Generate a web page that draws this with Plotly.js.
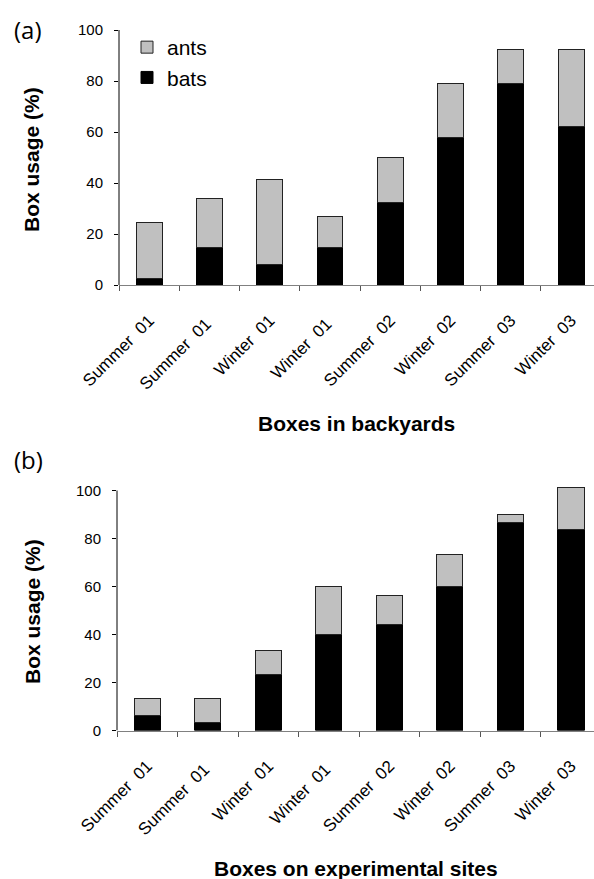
<!DOCTYPE html>
<html>
<head>
<meta charset="utf-8">
<script src="https://cdn.plot.ly/plotly-3.0.1.min.js"></script>
<style>html,body{margin:0;padding:0;background:#fff;}#chart{width:594px;height:879px;}</style>
</head>
<body>
<div id="chart"></div>
<script>
// Categories (x tick labels), same for both panels
const categories = ["Summer \u00a001", "Summer \u00a001 ", "Winter \u00a001", "Winter \u00a001 ", "Summer \u00a002", "Winter \u00a002", "Summer \u00a003", "Winter \u00a003"];

// Panel (a): boxes in backyards (%)
const batsA = [2.5, 14.6, 8.0, 14.6, 32.3, 58.0, 78.9, 62.3];
const antsA = [22.0, 19.3, 33.2, 12.1, 17.8, 20.9, 13.3, 29.9];

// Panel (b): boxes on experimental sites (%)
const batsB = [6.4, 3.4, 23.5, 40.1, 44.3, 60.2, 86.8, 83.8];
const antsB = [7.0, 10.0, 10.0, 20.0, 11.8, 13.3, 3.4, 17.4];

const yTicks = [0, 20, 40, 60, 80, 100];
const seriesNames = ["bats", "ants"];

const W = 594, H = 879;
const FONT = "Liberation Sans, Arial, sans-serif";
const px = v => v / W;
const py = v => 1 - v / H;

const barW = 0.43;
const common = {type: "bar", width: barW};

const traces = [
  Object.assign({}, common, {x: categories, y: batsA, name: seriesNames[0], xaxis: "x", yaxis: "y",
    marker: {color: "#000000", line: {color: "#000000", width: 1}}, legendrank: 2}),
  Object.assign({}, common, {x: categories, y: antsA, name: seriesNames[1], xaxis: "x", yaxis: "y",
    marker: {color: "#c0c0c0", line: {color: "#222222", width: 1}}, legendrank: 1}),
  Object.assign({}, common, {x: categories, y: batsB, name: seriesNames[0], xaxis: "x2", yaxis: "y2", showlegend: false,
    marker: {color: "#000000", line: {color: "#000000", width: 1}}}),
  Object.assign({}, common, {x: categories, y: antsB, name: seriesNames[1], xaxis: "x2", yaxis: "y2", showlegend: false,
    marker: {color: "#c0c0c0", line: {color: "#222222", width: 1}}})
];

const xAxisBase = {
  type: "category",
  range: [-0.5, 7.38],
  showgrid: false, zeroline: false,
  showline: true, linecolor: "#808080", linewidth: 1,
  ticks: "outside", tickson: "boundaries", ticklen: 5, tickcolor: "#555555", tickwidth: 1,
  tickangle: -45,
  tickfont: {family: FONT, size: 17, color: "#000"},
  ticklabelstandoff: 18,
  fixedrange: true
};
const yAxisBase = {
  showgrid: false, zeroline: false, showline: false,
  ticks: "outside", ticklen: 4, tickcolor: "#000", tickwidth: 1,
  tickvals: yTicks, ticktext: yTicks.map(String),
  tickfont: {family: FONT, size: 15, color: "#000"},
  ticklabelstandoff: 8,
  fixedrange: true
};

// panel (b): 0 at y=730.5px, 100 at y=490.5px; range extended a bit to show the tallest bar
const bTopVal = 102;
const bTopPx = 730.5 - bTopVal * 2.4;

const layout = {
  width: W, height: H,
  margin: {l: 0, r: 0, t: 0, b: 0},
  paper_bgcolor: "#fff", plot_bgcolor: "#fff",
  barmode: "stack",
  showlegend: true,
  legend: {
    x: px(127), y: py(27), xanchor: "left", yanchor: "top",
    font: {family: FONT, size: 21, color: "#000"},
    bgcolor: "rgba(0,0,0,0)", traceorder: "normal",
    itemwidth: 30, tracegroupgap: 0
  },
  xaxis: Object.assign({}, xAxisBase, {domain: [px(119), 1], anchor: "y"}),
  yaxis: Object.assign({}, yAxisBase, {domain: [py(285), py(30)], range: [0, 100], anchor: "x"}),
  xaxis2: Object.assign({}, xAxisBase, {domain: [px(117), 1], anchor: "y2"}),
  yaxis2: Object.assign({}, yAxisBase, {domain: [py(730.5), py(bTopPx)], range: [0, bTopVal], anchor: "x2"}),
  shapes: [
    {type: "line", xref: "x domain", yref: "y", x0: 0, x1: 0, y0: 0, y1: 100, line: {color: "#000", width: 1}},
    {type: "line", xref: "x2 domain", yref: "y2", x0: 0, x1: 0, y0: 0, y1: 100, line: {color: "#000", width: 1}}
  ],
  annotations: [
    {text: "(a)", xref: "paper", yref: "paper", x: px(28), y: py(30), xanchor: "center", yanchor: "middle", showarrow: false,
      font: {family: "Open Sans, Noto Sans, sans-serif", size: 24, color: "#000"}},
    {text: "(b)", xref: "paper", yref: "paper", x: px(28), y: py(459), xanchor: "center", yanchor: "middle", showarrow: false,
      font: {family: "Open Sans, Noto Sans, sans-serif", size: 24, color: "#000"}},
    {text: "<b>Box usage (%)</b>", xref: "paper", yref: "paper", x: px(32), y: py(160), textangle: -90, xanchor: "center", yanchor: "middle", showarrow: false,
      font: {family: FONT, size: 21, color: "#000"}},
    {text: "<b>Box usage (%)</b>", xref: "paper", yref: "paper", x: px(32), y: py(612), textangle: -90, xanchor: "center", yanchor: "middle", showarrow: false,
      font: {family: FONT, size: 21, color: "#000"}},
    {text: "<b>Boxes in backyards</b>", xref: "paper", yref: "paper", x: px(356), y: py(423), xanchor: "center", yanchor: "middle", showarrow: false,
      font: {family: FONT, size: 21, color: "#000"}},
    {text: "<b>Boxes on experimental sites</b>", xref: "paper", yref: "paper", x: px(356), y: py(868), xanchor: "center", yanchor: "middle", showarrow: false,
      font: {family: FONT, size: 21, color: "#000"}}
  ]
};

Plotly.newPlot("chart", traces, layout, {staticPlot: true, displayModeBar: false});
</script>
</body>
</html>
